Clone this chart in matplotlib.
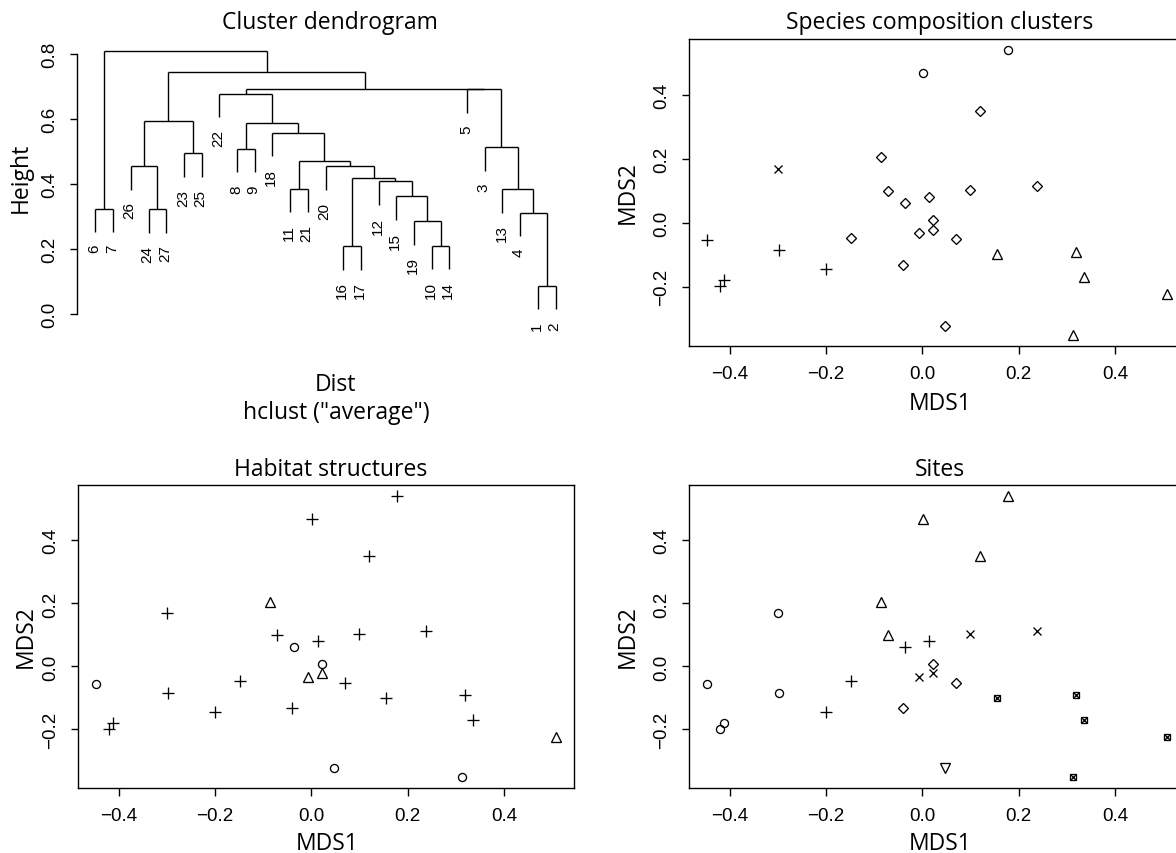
import matplotlib
matplotlib.use("Agg")
import matplotlib.pyplot as plt
import numpy as np

W, H = 1176, 854

# ---- MDS ordination scores of the 27 sites ----
mds1 = [0.178, 0.002, 0.120, -0.085, -0.300, -0.072, -0.036, 0.013, 0.099, 0.238,
        0.022, 0.022, -0.006, 0.070, -0.148, -0.040, 0.047, -0.446, -0.297, -0.200,
        -0.412, -0.419, 0.156, 0.319, 0.335, 0.507, 0.312]
mds2 = [0.540, 0.468, 0.351, 0.205, 0.169, 0.100, 0.062, 0.082, 0.102, 0.114,
        0.008, -0.021, -0.032, -0.052, -0.047, -0.133, -0.322, -0.055, -0.084, -0.143,
        -0.179, -0.198, -0.099, -0.090, -0.171, -0.224, -0.350]

# plotting symbols (R pch codes) per site for each panel
cluster_pch = [1, 1, 5, 5, 4, 5, 5, 5, 5, 5, 5, 5, 5, 5, 5, 5, 5, 3, 3, 3, 3, 3, 2, 2, 2, 2, 2]
habitat_pch = [3, 3, 3, 2, 3, 3, 1, 3, 3, 3, 1, 2, 2, 3, 3, 3, 1, 1, 3, 3, 3, 3, 3, 3, 3, 2, 1]
site_pch = [2, 2, 2, 2, 1, 2, 3, 3, 4, 4, 5, 4, 4, 5, 3, 5, 6, 1, 1, 3, 1, 1, 7, 7, 7, 7, 7]

# ---- hclust (average) merge matrix, R convention: negative = leaf ----
merge_a = [-1, -16, -10, -19, -4, -24, -6, -15, -13, -11, -12, 2, -20, -26, 10, -23,
           -8, -3, -18, 17, 14, -22, -5, 22, 21, 7]
merge_b = [-2, -17, -14, 3, 1, -27, -7, 4, 5, -21, 8, 11, 12, 6, 13, -25,
           -9, 9, 15, 19, 16, 20, 18, 23, 24, 25]
merge_h = [0.087, 0.209, 0.210, 0.286, 0.312, 0.322, 0.324, 0.362, 0.384, 0.386,
           0.408, 0.419, 0.454, 0.455, 0.472, 0.494, 0.508, 0.513, 0.558, 0.589,
           0.595, 0.678, 0.691, 0.693, 0.746, 0.808]

x_ticks = [-0.4, -0.2, 0.0, 0.2, 0.4]
y_ticks = [-0.2, 0.0, 0.2, 0.4]
dend_ticks = [0.0, 0.2, 0.4, 0.6, 0.8]

LAB = dict(family="Open Sans", size=16.5, color="black")
TICKFONT = "Liberation Sans"
TICKSIZE = 13.5
LW = 1.0

fig = plt.figure(figsize=(W / 100, H / 100), dpi=100)
fig.patch.set_facecolor("white")


def px_axes(left, top, right, bottom):
    return fig.add_axes([left / W, 1 - bottom / H, (right - left) / W, (bottom - top) / H])


def ftext(x, y, s, **kw):
    fig.text(x / W, 1 - y / H, s, **kw)


def fmt(v):
    s = "%.1f" % abs(v)
    return ("\u2212" + s) if v < -1e-9 else s


def style_ticks(ax):
    ax.tick_params(direction="out", length=5.4, width=LW, pad=8.0,
                   labelsize=TICKSIZE, colors="black")
    for lab in ax.get_xticklabels() + ax.get_yticklabels():
        lab.set_fontfamily(TICKFONT)
    for lab in ax.get_yticklabels():
        lab.set_rotation(90)
        lab.set_va("center")


PCH = {
    1: dict(marker="o", ms=5.8),
    2: dict(marker="^", ms=6.8),
    3: dict(marker="+", ms=8.0),
    4: dict(marker="x", ms=5.8),
    5: dict(marker="D", ms=5.2),
    6: dict(marker="v", ms=6.8),
}


def scatter_panel(ax, pch):
    x = np.array(mds1)
    y = np.array(mds2)
    g = np.array(pch)
    for code in sorted(set(pch)):
        m = g == code
        common = dict(ls="none", mfc="none", mec="black", mew=0.95, clip_on=False)
        if code == 7:
            ax.plot(x[m], y[m], marker="s", ms=4.8, **common)
            ax.plot(x[m], y[m], marker="x", ms=4.2, **common)
        else:
            ax.plot(x[m], y[m], **PCH[code], **common)
    lo, hi = x.min(), x.max()
    d = 0.04 * (hi - lo)
    ax.set_xlim(lo - d, hi + d)
    lo, hi = y.min(), y.max()
    d = 0.04 * (hi - lo)
    ax.set_ylim(lo - d, hi + d)
    ax.set_xticks(x_ticks)
    ax.set_xticklabels([fmt(v) for v in x_ticks])
    ax.set_yticks(y_ticks)
    ax.set_yticklabels([fmt(v) for v in y_ticks])
    for sp in ax.spines.values():
        sp.set_linewidth(LW)
        sp.set_color("black")
    style_ticks(ax)


# ---------------- dendrogram ----------------
axd = px_axes(77, 40, 574, 343)
n_leaf = len(merge_h) + 1


def leaves_of(node):
    if node < 0:
        return [-node]
    i = node - 1
    return leaves_of(merge_a[i]) + leaves_of(merge_b[i])


order = leaves_of(len(merge_h))
leaf_pos = {leaf: k + 1 for k, leaf in enumerate(order)}
hang = 0.1 * (max(merge_h) - min(merge_h))
node_x = {}
for i in range(len(merge_h)):
    h = merge_h[i]
    xs = []
    for child in (merge_a[i], merge_b[i]):
        if child < 0:
            cx = leaf_pos[-child]
            cy = h - hang
            axd.annotate(str(-child), xy=(cx, cy), xytext=(-0.8, -8.5),
                         textcoords="offset points", rotation=90,
                         ha="center", va="top", fontsize=11,
                         fontfamily=TICKFONT, annotation_clip=False)
        else:
            cx = node_x[child]
            cy = merge_h[child - 1]
        axd.plot([cx, cx], [cy, h], color="black", lw=LW, solid_capstyle="butt")
        xs.append(cx)
    axd.plot(xs, [h, h], color="black", lw=LW, solid_capstyle="butt")
    node_x[i + 1] = 0.5 * (xs[0] + xs[1])

axd.set_xlim(1 - 0.04 * (n_leaf - 1), n_leaf + 0.04 * (n_leaf - 1))
axd.set_ylim(-0.086, 0.846)
axd.set_xticks([])
axd.set_yticks(dend_ticks)
axd.set_yticklabels([fmt(v) for v in dend_ticks])
for s in ("top", "right", "bottom"):
    axd.spines[s].set_visible(False)
axd.spines["left"].set_bounds(0.0, 0.8)
axd.spines["left"].set_linewidth(LW)
style_ticks(axd)
axd.patch.set_alpha(0)

# ---------------- MDS panels ----------------
ax_sp = px_axes(689, 40, 1185, 347)
scatter_panel(ax_sp, cluster_pch)
ax_hab = px_axes(78, 486, 574, 789)
scatter_panel(ax_hab, habitat_pch)
ax_site = px_axes(689, 486, 1185, 789)
scatter_panel(ax_site, site_pch)

# ---------------- titles and labels ----------------
ftext(330, 29, "Cluster dendrogram", ha="center", va="baseline", **LAB)
ftext(940, 29, "Species composition clusters", ha="center", va="baseline", **LAB)
ftext(331, 476, "Habitat structures", ha="center", va="baseline", **LAB)
ftext(940, 476, "Sites", ha="center", va="baseline", **LAB)

ftext(21, 178, "Height", ha="center", va="center", rotation=90, **LAB)
ftext(335, 391, "Dist", ha="center", va="baseline", **LAB)
ftext(336, 419, 'hclust ("average")', ha="center", va="baseline", **LAB)

ftext(628, 193, "MDS2", ha="center", va="center", rotation=90, **LAB)
ftext(940, 410, "MDS1", ha="center", va="baseline", **LAB)
ftext(26, 637, "MDS2", ha="center", va="center", rotation=90, **LAB)
ftext(327, 850, "MDS1", ha="center", va="baseline", **LAB)
ftext(628, 637, "MDS2", ha="center", va="center", rotation=90, **LAB)
ftext(940, 850, "MDS1", ha="center", va="baseline", **LAB)

fig.savefig("out.png", dpi=100, facecolor="white")
